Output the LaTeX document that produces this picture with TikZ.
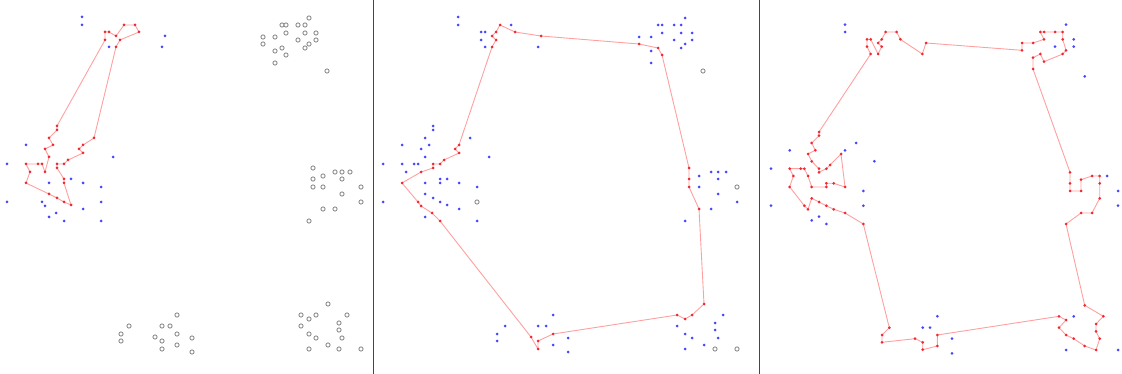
\documentclass[tikz,border=0pt]{standalone}
\usetikzlibrary{calc}
\definecolor{ptblue}{RGB}{70,70,255}
\definecolor{ptred}{RGB}{240,40,50}
\definecolor{tourred}{RGB}{255,160,160}
\definecolor{ptgrey}{RGB}{140,140,140}
\definecolor{sepgray}{RGB}{70,70,70}

% base point sets (panel one frame)
\def\grpAblue{82/17,82/25,109/47,165/36,162/47,26/145,7/164,49/183,71/179,83/183,101/187,113/157,7/202,42/202,45/206,56/213,49/217,64/221,83/209,101/202,101/221}
\def\grpB{309/18,282/25,286/25,298/25,305/25,286/33,305/33,316/33,263/37,275/37,263/44,298/40,309/44,316/40,305/48,282/48,275/51,286/55,275/63,327/71}
\def\grpC{313/168,323/176,335/172,342/172,350/172,313/179,342/179,313/187,323/187,361/187,342/194,361/202,323/209,335/209,309/221}
\def\grpD{328/304,301/315,309/319,316/315,347/315,301/326,339/323,309/334,339/330,316/338,342/338,309/349,328/345,339/349,361/349}
\def\grpE{177/315,129/326,162/326,170/326,121/334,177/334,155/337,192/338,121/341,162/341,177/345,162/349,192/352}
% blue points left in panel two
\def\twoblue{82/17,82/25,109/47,162/47,26/145,7/164,49/183,71/179,83/183,101/187,113/157,7/202,49/217,83/209,101/221,105/40,105/32,109/32,135/25,57/126,57/130,49/138,53/145,45/149,49/157,42/164,38/164,26/164,30/172,49/194,57/198,64/202,71/205,64/183,64/179,94/138,309/18,282/25,286/25,298/25,305/25,286/33,305/33,316/33,263/37,275/37,298/40,309/44,316/40,305/48,275/51,275/63,323/176,335/172,342/172,350/172,342/179,323/187,342/194,361/202,335/209,309/221,347/315,301/326,339/323,309/334,339/330,316/338,342/338,309/349,328/345,177/315,129/326,162/326,170/326,121/334,192/338,121/341,177/345,192/352}
\def\twogrey{327/71,361/187,339/349,361/349,101/202}
% blue points left in panel three
\def\threeblue{845/24.7,845/32,1066/24.7,1073.7/39.3,1073.7/46.7,1055/46.7,1084.7/76.3,856/143,789.7/150.3,845/150.3,874.3/161.3,771/168.7,863.3/191,771/205.7,863.3/205.7,819/216.7,811.7/220.3,826.3/224,1107/176,1118/191,1118/205.7,937.3/316.3,922.7/327.7,930/327.7,952/338.7,952/353.3,1073.7/316.3,1066/350,1118/350}

\begin{document}
\begin{tikzpicture}[x=1pt,y=-1pt,
  bluept/.style={fill=ptblue},
  greypt/.style={draw=ptgrey,line width=0.9pt,fill=white},
  tour/.style={draw=tourred,line width=0.9pt,line join=round},
  redpt/.style={fill=ptred},
  sep/.style={draw=sepgray,line width=0.8pt}]
  \useasboundingbox (0,0) rectangle (1122,374);

  % panel one
  \foreach \x/\y in \grpAblue {\fill[bluept] (\x,\y) circle (1.5);}
  \foreach \x/\y in \grpB {\draw[greypt] (\x,\y) circle (2.1);}
  \foreach \x/\y in \grpC {\draw[greypt] (\x,\y) circle (2.1);}
  \foreach \x/\y in \grpD {\draw[greypt] (\x,\y) circle (2.1);}
  \foreach \x/\y in \grpE {\draw[greypt] (\x,\y) circle (2.1);}
  \draw[tour] plot coordinates {(105,40) (57,126) (57,130) (49,138) (53,145)
    (45,149) (49,157) (45,172) (42,164) (38,164) (26,164) (30,172) (26,183)
    (49,194) (57,198) (64,202) (71,205) (64,183) (64,179) (57,168) (57,164)
    (64,164) (68,160) (83,153) (79,149) (83,145) (94,138) (116,47) (120,40)
    (139,32) (135,25) (124,25) (116,36) (109,32) (105,32)} -- cycle;
  \foreach \x/\y in {105/40,57/126,57/130,49/138,53/145,45/149,49/157,45/172,
    42/164,38/164,26/164,30/172,26/183,49/194,57/198,64/202,71/205,64/183,
    64/179,57/168,57/164,64/164,68/160,83/153,79/149,83/145,94/138,116/47,
    120/40,139/32,135/25,124/25,116/36,109/32,105/32}
    {\fill[redpt] (\x,\y) circle (1.5);}

  \draw[sep] (373,0) -- (373,374);

  % panel two
  \begin{scope}[xshift=376pt]
    \foreach \x/\y in \twoblue {\fill[bluept] (\x,\y) circle (1.5);}
    \foreach \x/\y in \twogrey {\draw[greypt] (\x,\y) circle (2.1);}
    \draw[tour] plot coordinates {(116,47) (120,40) (116,36) (120,32) (124,25)
      (139,32) (165,36) (263,44) (282,48) (286,55) (313,168) (313,179)
      (313,187) (323,209) (328,304) (316,315) (309,319) (301,315) (177,334)
      (162,341) (162,349) (155,337) (64,221) (56,213) (45,206) (42,202)
      (26,183) (45,172) (57,168) (57,164) (64,164) (68,160) (83,153) (79,149)
      (83,145)} -- cycle;
    \foreach \x/\y in {116/47,120/40,116/36,120/32,124/25,139/32,165/36,263/44,
      282/48,286/55,313/168,313/179,313/187,323/209,328/304,316/315,309/319,
      301/315,177/334,162/341,162/349,155/337,64/221,56/213,45/206,42/202,
      26/183,45/172,57/168,57/164,64/164,68/160,83/153,79/149,83/145}
      {\fill[redpt] (\x,\y) circle (1.5);}
  \end{scope}

  \draw[sep] (759,0) -- (759,374);

  % panel three
  \foreach \x/\y in \threeblue {\fill[bluept] (\x,\y) circle (1.5);}
  \draw[tour] plot coordinates {(870.7,54) (867,46.7) (867,39.3) (870.7,39.3)
    (878,54) (881.7,46.7) (878,43) (881.7,39.3) (885.7,32) (896.7,32)
    (900.3,39.3) (922.3,54) (926,43) (1022,50.3) (1022,43) (1033,43)
    (1044,39.3) (1040.3,32) (1044,32) (1055,32) (1062.7,32) (1062.7,39.3)
    (1066,50.3) (1062.7,54) (1044,61.7) (1040.3,54) (1033,57.7) (1033,69)
    (1070,172.3) (1070,183.3) (1070,191) (1081,191) (1081,179.7) (1092,176)
    (1099.7,176) (1099.7,183.3) (1099.7,198.3) (1092,213) (1081,213)
    (1066,224) (1084.7,305.3) (1103.3,316.3) (1096,324) (1096,331.3)
    (1099.7,338.7) (1096,350) (1084.7,346) (1073.7,338.7) (1066,335)
    (1059,327.7) (1066,320) (1059,316.3) (937.3,335) (937.3,346)
    (922.7,349.7) (922.7,342.3) (915,338.7) (882,342.3) (882,335)
    (889.3,327.7) (863.3,224) (845,213) (833.7,209.3) (826.3,205.7)
    (819,202) (811.7,198.3) (808,209.3) (804.3,205.7) (789.7,187)
    (793.3,176) (789.7,168.7) (800.7,168.7) (804.3,168.7) (808,176)
    (811.7,187) (826.3,187) (826.3,183.3) (833.7,183.3) (845,187) (841,154)
    (830,165) (826.3,168.7) (819,172.3) (819,168.7) (811.7,161.3) (808,154)
    (815.3,150.3) (811.7,143) (819,135.7) (819,132)} -- cycle;
  \foreach \x/\y in {870.7/54,867/46.7,867/39.3,870.7/39.3,878/54,881.7/46.7,
    878/43,881.7/39.3,885.7/32,896.7/32,900.3/39.3,922.3/54,926/43,1022/50.3,
    1022/43,1033/43,1044/39.3,1040.3/32,1044/32,1055/32,1062.7/32,1062.7/39.3,
    1066/50.3,1062.7/54,1044/61.7,1040.3/54,1033/57.7,1033/69,1070/172.3,
    1070/183.3,1070/191,1081/191,1081/179.7,1092/176,1099.7/176,1099.7/183.3,
    1099.7/198.3,1092/213,1081/213,1066/224,1084.7/305.3,1103.3/316.3,1096/324,
    1096/331.3,1099.7/338.7,1096/350,1084.7/346,1073.7/338.7,1066/335,
    1059/327.7,1066/320,1059/316.3,937.3/335,937.3/346,922.7/349.7,922.7/342.3,
    915/338.7,882/342.3,882/335,889.3/327.7,863.3/224,845/213,833.7/209.3,
    826.3/205.7,819/202,811.7/198.3,808/209.3,804.3/205.7,789.7/187,793.3/176,
    789.7/168.7,800.7/168.7,804.3/168.7,808/176,811.7/187,826.3/187,
    826.3/183.3,833.7/183.3,845/187,841/154,830/165,826.3/168.7,819/172.3,
    819/168.7,811.7/161.3,808/154,815.3/150.3,811.7/143,819/135.7,819/132}
    {\fill[redpt] (\x,\y) circle (1.5);}
\end{tikzpicture}
\end{document}
